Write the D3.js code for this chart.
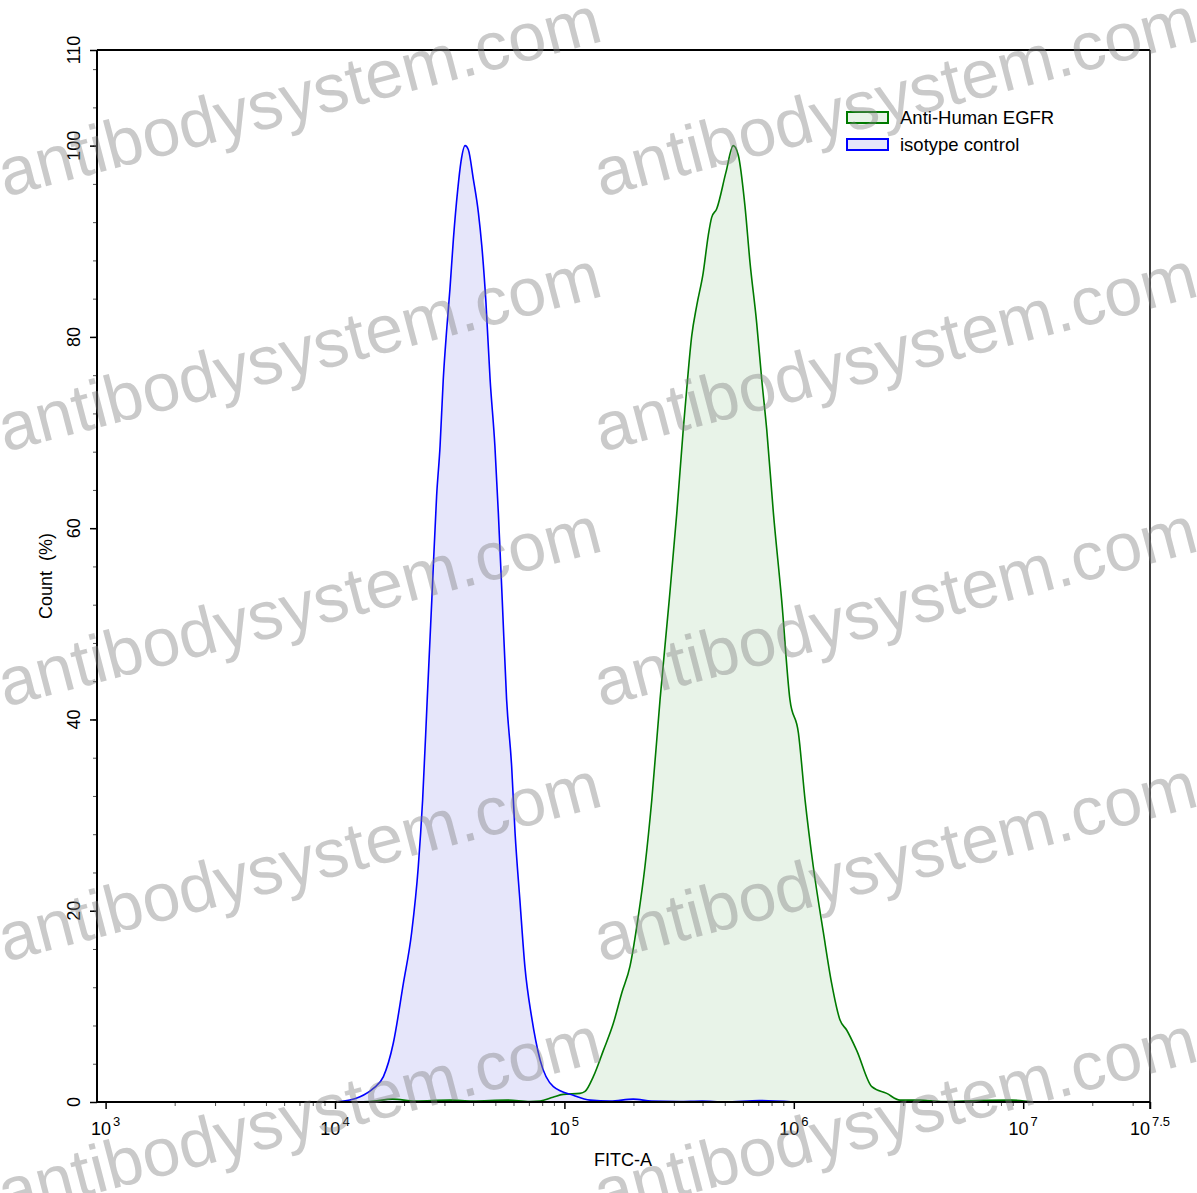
<!DOCTYPE html>
<html>
<head>
<meta charset="utf-8">
<script src="https://cdn.jsdelivr.net/npm/d3@7"></script>
<style>
  html, body { margin: 0; padding: 0; background: #fff; }
  svg { display: block; font-family: "Liberation Sans", Arial, Helvetica, sans-serif; }
</style>
</head>
<body>
<svg id="chart" width="1197" height="1193"></svg>
<script>
// ---- data (FITC-A in log10 units, count in %) ----
const isotypeLogFITC = [4.0, 4.065, 4.109, 4.167, 4.211, 4.254, 4.298, 4.334, 4.363, 4.382, 4.402, 4.422, 4.443, 4.458, 4.472, 4.487, 4.501, 4.516, 4.535, 4.549, 4.567, 4.581, 4.603, 4.625, 4.640, 4.658, 4.676, 4.697, 4.712, 4.729, 4.748, 4.770, 4.785, 4.806, 4.828, 4.857, 4.894, 4.952, 5.039, 5.112, 5.2, 5.3, 5.38, 5.5, 5.6, 5.7, 5.85, 6.0];
const isotypeCount   = [0, 0.2, 0.55, 1.43, 2.65, 6.14, 12.4, 17.7, 24.6, 31.6, 42.1, 52.5, 63.4, 68.6, 75.6, 80.8, 85.0, 90.2, 95.4, 98.3, 100, 99.6, 96.5, 93.0, 89.5, 83.6, 75.6, 68.6, 61.6, 52.5, 42.1, 35.1, 28.1, 21.1, 14.1, 8.9, 4.4, 1.6, 0.7, 0.2, 0.1, 0.3, 0.1, 0.05, 0.1, 0, 0.15, 0];

const egfrLogFITC = [4.0, 4.15, 4.25, 4.35, 4.5, 4.6, 4.75, 4.85, 4.894, 4.95, 4.995, 5.068, 5.090, 5.126, 5.170, 5.213, 5.250, 5.286, 5.322, 5.351, 5.381, 5.417, 5.457, 5.490, 5.518, 5.533, 5.555, 5.577, 5.605, 5.627, 5.642, 5.664, 5.704, 5.736, 5.758, 5.787, 5.809, 5.838, 5.860, 5.882, 5.911, 5.947, 5.983, 6.020, 6.049, 6.085, 6.129, 6.165, 6.201, 6.231, 6.274, 6.340, 6.405, 6.463, 6.55, 6.65, 6.8, 6.95, 7.05];
const egfrCount   = [0, 0.05, 0.3, 0.1, 0.2, 0.1, 0.2, 0.05, 0.1, 0.5, 0.8, 0.9, 1.1, 2.65, 5.4, 8.2, 11.4, 14.2, 19.4, 24.6, 31.6, 42.1, 52.5, 61.6, 70.3, 74.5, 80.1, 83.3, 86.7, 90.6, 92.5, 93.4, 97.2, 100, 99.0, 93.7, 87.8, 81.5, 75.6, 70.3, 61.6, 52.5, 42.1, 38.6, 31.6, 24.6, 17.7, 12.4, 8.6, 7.5, 5.4, 1.6, 0.9, 0.2, 0.2, 0.05, 0.15, 0.2, 0];

const seriesNames = ["Anti-Human EGFR", "isotype control"];
const xTickExponents = ["3", "4", "5", "6", "7", "7.5"];
const yMajorTicks = [0, 20, 40, 60, 80, 100, 110];
const xTitle = "FITC-A";
const yTitle = "Count  (%)";
const watermarkText = "antibodysystem.com";

// ---- layout ----
const svg = d3.select("#chart");
const L = 97, R = 1150, T = 50, B = 1102;
const logMin = 2.9625, logMax = 7.5527;

const x = d3.scaleLog().domain([Math.pow(10, logMin), Math.pow(10, logMax)]).range([L, R]);
const y = d3.scaleLinear().domain([0, 110]).range([B, T]);

const isoData = d3.zip(isotypeLogFITC, isotypeCount).map(d => ({v: Math.pow(10, d[0]), c: d[1]}));
const egfrData = d3.zip(egfrLogFITC, egfrCount).map(d => ({v: Math.pow(10, d[0]), c: d[1]}));

const area = d3.area().x(d => x(d.v)).y0(y(0)).y1(d => y(d.c)).curve(d3.curveMonotoneX);
const line = d3.line().x(d => x(d.v)).y(d => y(d.c)).curve(d3.curveMonotoneX);

const colors = {egfr: {stroke: "#007a00", fill: "#e8f3e8"}, iso: {stroke: "#0000ff", fill: "#e6e6fa"}};

// areas
svg.append("path").datum(egfrData).attr("d", area).attr("fill", colors.egfr.fill);
svg.append("path").datum(isoData).attr("d", area).attr("fill", colors.iso.fill);
svg.append("path").datum(egfrData).attr("d", line).attr("fill", "none").attr("stroke", colors.egfr.stroke).attr("stroke-width", 1.6);
svg.append("path").datum(isoData).attr("d", line).attr("fill", "none").attr("stroke", colors.iso.stroke).attr("stroke-width", 1.6);

// x axis ticks
const xMajorVals = xTickExponents.map((e, i) => i === xTickExponents.length - 1 ? Math.pow(10, logMax) : Math.pow(10, +e));
const xMinorVals = [];
for (let k = 3; k <= 7; k++) for (let m = 2; m <= 9; m++) {
  const v = m * Math.pow(10, k);
  if (Math.log10(v) < logMax - 0.02) xMinorVals.push(v);
}
const xMinorAxis = d3.axisBottom(x).tickValues(xMinorVals).tickSize(4).tickFormat("");
const xMajorAxis = d3.axisBottom(x).tickValues(xMajorVals).tickSize(7).tickFormat("");
const gxm = svg.append("g").attr("transform", `translate(0,${B})`).call(xMinorAxis);
gxm.select(".domain").remove();
gxm.selectAll("line").attr("stroke", "#555").attr("stroke-width", 1);
const gxM = svg.append("g").attr("transform", `translate(0,${B})`).call(xMajorAxis);
gxM.select(".domain").remove();
gxM.selectAll("line").attr("stroke", "#000").attr("stroke-width", 1.5);

// x tick labels
xMajorVals.forEach((v, i) => {
  const t = svg.append("text").attr("x", x(v)).attr("y", 1135)
    .attr("text-anchor", "middle").attr("font-size", 18).attr("fill", "#000");
  t.append("tspan").text("10");
  t.append("tspan").attr("dx", 2).attr("dy", -9).attr("font-size", 13).text(xTickExponents[i]);
});

// y axis ticks
const yMinorVals = d3.range(0, 110, 4);
const yMinorAxis = d3.axisLeft(y).tickValues(yMinorVals).tickSize(4).tickFormat("");
const yMajorAxis = d3.axisLeft(y).tickValues(yMajorTicks).tickSize(7).tickFormat("");
const gym = svg.append("g").attr("transform", `translate(${L},0)`).call(yMinorAxis);
gym.select(".domain").remove();
gym.selectAll("line").attr("stroke", "#555").attr("stroke-width", 1);
const gyM = svg.append("g").attr("transform", `translate(${L},0)`).call(yMajorAxis);
gyM.select(".domain").remove();
gyM.selectAll("line").attr("stroke", "#000").attr("stroke-width", 1.5);

yMajorTicks.forEach(v => {
  svg.append("text").attr("transform", `translate(80,${y(v)}) rotate(-90)`)
    .attr("text-anchor", "middle").attr("font-size", 18).attr("fill", "#000").text(v);
});

// frame
svg.append("line").attr("x1", L).attr("x2", L).attr("y1", T).attr("y2", B).attr("stroke", "#000").attr("stroke-width", 2);
svg.append("line").attr("x1", L - 1).attr("x2", R).attr("y1", B).attr("y2", B).attr("stroke", "#000").attr("stroke-width", 2);
svg.append("line").attr("x1", L).attr("x2", R).attr("y1", T).attr("y2", T).attr("stroke", "#000").attr("stroke-width", 2);
svg.append("line").attr("x1", R).attr("x2", R).attr("y1", T).attr("y2", B + 7).attr("stroke", "#000").attr("stroke-width", 1.5);

// titles
svg.append("text").attr("x", 623).attr("y", 1166).attr("text-anchor", "middle").attr("font-size", 18).text(xTitle);
svg.append("text").attr("transform", "translate(52,576) rotate(-90)").attr("text-anchor", "middle")
  .attr("font-size", 18).attr("xml:space", "preserve").style("white-space", "pre").text(yTitle);

// legend
const legend = [
  {name: seriesNames[0], c: colors.egfr},
  {name: seriesNames[1], c: colors.iso}
];
legend.forEach((d, i) => {
  const yy = 112 + i * 27;
  svg.append("rect").attr("x", 847).attr("y", yy).attr("width", 41).attr("height", 11)
    .attr("fill", d.c.fill).attr("stroke", d.c.stroke).attr("stroke-width", 2);
  svg.append("text").attr("x", 900).attr("y", yy + 11.5).attr("font-size", 18.5).attr("fill", "#000").text(d.name);
});

// watermark (partially cut at the picture edges, as in the reference)
const wmRows = [197, 452, 707, 962, 1217];
const wmCols = [5, 601];
wmRows.forEach(r => wmCols.forEach(c => {
  svg.append("text").attr("transform", `translate(${c},${r}) rotate(-14.6)`)
    .attr("font-size", 68).attr("fill", "#808080").attr("fill-opacity", 0.42)
    .text(watermarkText);
}));
</script>
</body>
</html>
